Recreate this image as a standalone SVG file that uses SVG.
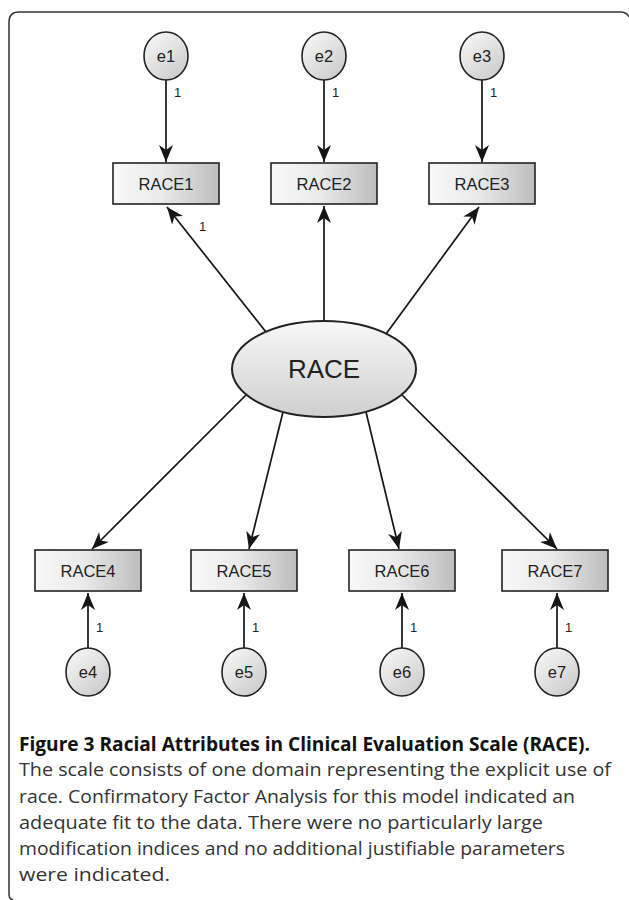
<svg xmlns="http://www.w3.org/2000/svg" width="629" height="900" viewBox="0 0 629 900">
<defs>
  <linearGradient id="gBox" x1="0" y1="0" x2="1" y2="0">
    <stop offset="0" stop-color="#f8f8f8"/>
    <stop offset="0.45" stop-color="#ebebeb"/>
    <stop offset="1" stop-color="#bdbdbd"/>
  </linearGradient>
  <linearGradient id="gCirc" x1="0" y1="0" x2="0.8" y2="1">
    <stop offset="0" stop-color="#fbfbfb"/>
    <stop offset="1" stop-color="#cbcbcb"/>
  </linearGradient>
  <linearGradient id="gEll" x1="0" y1="0" x2="0" y2="1">
    <stop offset="0" stop-color="#f8f8f8"/>
    <stop offset="1" stop-color="#cfcfcf"/>
  </linearGradient>
  <marker id="ah" markerWidth="18" markerHeight="14" refX="17" refY="7" orient="auto" markerUnits="userSpaceOnUse">
    <path d="M0,0 L17,7 L0,14 L5,7 Z" fill="#151515"/>
  </marker>
  <style>
    .box{fill:url(#gBox);stroke:#222;stroke-width:1.6}
    .err{fill:url(#gCirc);stroke:#222;stroke-width:1.6}
    .lat{fill:url(#gEll);stroke:#222;stroke-width:2}
    .lbl{font-family:"Liberation Sans",Arial,sans-serif;font-size:16.5px;fill:#222;text-anchor:middle;dominant-baseline:central}
    .big{font-size:26px}
    .one{font-family:"Liberation Sans",Arial,sans-serif;font-size:13px;fill:#222}
    .edge{stroke:#151515;stroke-width:1.7;fill:none;marker-end:url(#ah)}
    .cap{font-family:"Open Sans","Noto Sans",sans-serif;font-size:19px;fill:#333}
    .capb{font-family:"Open Sans","Noto Sans",sans-serif;font-size:19px;font-weight:bold;fill:#111}
  </style>
</defs>
<path d="M13,900 Q9,899 9,894 L9,22 Q9,12 19,12 L620,12 Q627,12 629,17" fill="none" stroke="#333" stroke-width="1.5"/>

<g id="connectors">
  <line class="edge" x1="166" y1="80" x2="166" y2="162"/>
  <line class="edge" x1="324" y1="80" x2="324" y2="162"/>
  <line class="edge" x1="482" y1="80" x2="482" y2="162"/>
  <line class="edge" x1="266" y1="332" x2="167" y2="207"/>
  <line class="edge" x1="324" y1="321" x2="324" y2="206"/>
  <line class="edge" x1="386" y1="334" x2="479" y2="207"/>
  <line class="edge" x1="247" y1="394" x2="92" y2="549"/>
  <line class="edge" x1="283" y1="412" x2="249" y2="549"/>
  <line class="edge" x1="366" y1="412" x2="399" y2="549"/>
  <line class="edge" x1="401" y1="394" x2="557" y2="549"/>
  <line class="edge" x1="88" y1="648" x2="88" y2="593"/>
  <line class="edge" x1="244" y1="648" x2="244" y2="593"/>
  <line class="edge" x1="402" y1="648" x2="402" y2="593"/>
  <line class="edge" x1="557" y1="648" x2="557" y2="593"/>
  <text class="one" x="174" y="97">1</text>
  <text class="one" x="332" y="97">1</text>
  <text class="one" x="490" y="97">1</text>
  <text class="one" x="199" y="231">1</text>
  <text class="one" x="96" y="632">1</text>
  <text class="one" x="252" y="632">1</text>
  <text class="one" x="410" y="632">1</text>
  <text class="one" x="565" y="632">1</text>
</g>

<g id="e1"><ellipse class="err" cx="166" cy="56" rx="22" ry="24"/><text class="lbl" x="166" y="56">e1</text></g>
<g id="e2"><ellipse class="err" cx="324" cy="56" rx="22" ry="24"/><text class="lbl" x="324" y="56">e2</text></g>
<g id="e3"><ellipse class="err" cx="482" cy="56" rx="22" ry="24"/><text class="lbl" x="482" y="56">e3</text></g>

<g id="RACE1"><rect class="box" x="113" y="163" width="106" height="41"/><text class="lbl" x="166" y="183.5">RACE1</text></g>
<g id="RACE2"><rect class="box" x="271" y="163" width="106" height="41"/><text class="lbl" x="324" y="183.5">RACE2</text></g>
<g id="RACE3"><rect class="box" x="429" y="163" width="106" height="41"/><text class="lbl" x="482" y="183.5">RACE3</text></g>

<g id="RACE"><ellipse class="lat" cx="324" cy="369" rx="92" ry="48"/><text class="lbl big" x="324" y="369">RACE</text></g>

<g id="RACE4"><rect class="box" x="35" y="550" width="106" height="41"/><text class="lbl" x="88" y="570.5">RACE4</text></g>
<g id="RACE5"><rect class="box" x="191" y="550" width="106" height="41"/><text class="lbl" x="244" y="570.5">RACE5</text></g>
<g id="RACE6"><rect class="box" x="349" y="550" width="106" height="41"/><text class="lbl" x="402" y="570.5">RACE6</text></g>
<g id="RACE7"><rect class="box" x="502" y="550" width="106" height="41"/><text class="lbl" x="555" y="570.5">RACE7</text></g>

<g id="e4"><ellipse class="err" cx="88" cy="672" rx="22" ry="24"/><text class="lbl" x="88" y="672">e4</text></g>
<g id="e5"><ellipse class="err" cx="244" cy="672" rx="22" ry="24"/><text class="lbl" x="244" y="672">e5</text></g>
<g id="e6"><ellipse class="err" cx="402" cy="672" rx="22" ry="24"/><text class="lbl" x="402" y="672">e6</text></g>
<g id="e7"><ellipse class="err" cx="557" cy="672" rx="22" ry="24"/><text class="lbl" x="557" y="672">e7</text></g>

<g id="caption">
  <text class="capb" x="19" y="751" textLength="571" lengthAdjust="spacingAndGlyphs">Figure 3 Racial Attributes in Clinical Evaluation Scale (RACE).</text>
  <text class="cap" x="19" y="776" textLength="592" lengthAdjust="spacingAndGlyphs">The scale consists of one domain representing the explicit use of</text>
  <text class="cap" x="19" y="803" textLength="556" lengthAdjust="spacingAndGlyphs">race. Confirmatory Factor Analysis for this model indicated an</text>
  <text class="cap" x="19" y="829" textLength="524" lengthAdjust="spacingAndGlyphs">adequate fit to the data. There were no particularly large</text>
  <text class="cap" x="19" y="855" textLength="546" lengthAdjust="spacingAndGlyphs">modification indices and no additional justifiable parameters</text>
  <text class="cap" x="19" y="881" textLength="151" lengthAdjust="spacingAndGlyphs">were indicated.</text>
</g>
</svg>
